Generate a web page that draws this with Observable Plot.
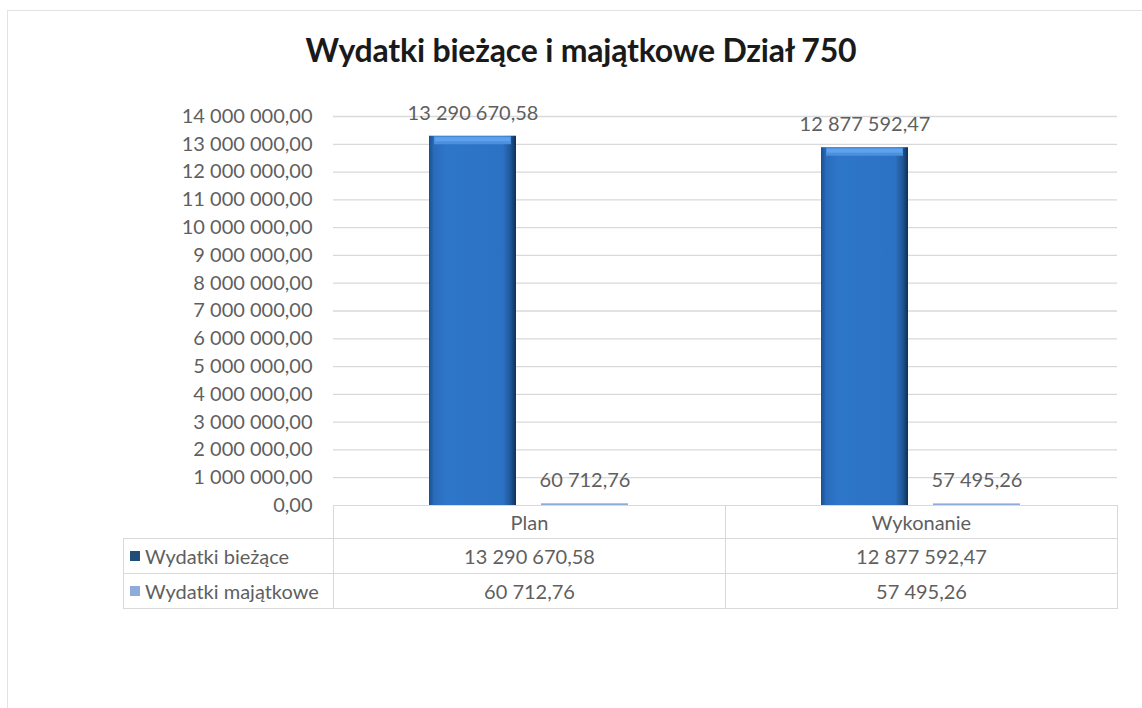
<!DOCTYPE html>
<html>
<head>
<meta charset="utf-8">
<script src="https://cdn.jsdelivr.net/npm/d3@7"></script>
<script src="https://cdn.jsdelivr.net/npm/@observablehq/plot@0.6"></script>
<style>
  html, body { margin: 0; padding: 0; background: #fff; }
  body { width: 1142px; height: 708px; position: relative; overflow: hidden; font-family: Lato, "Open Sans", sans-serif; }
  #frame { position: absolute; left: 7px; top: 10px; width: 1160px; height: 720px; border: 1px solid #e3e3e3; box-sizing: border-box; }
  #title { position: absolute; left: 0; width: 1162px; top: 30px; text-align: center; font-size: 32px; font-weight: bold; color: #1a1a1a; letter-spacing: -0.2px; }
  #chart { position: absolute; left: 0; top: 0; }
  .cell { position: absolute; box-sizing: border-box; color: #5f5f5f; font-size: 20px; display: flex; align-items: center; justify-content: center; border: 1px solid #d9d9d9; margin: 0; }
  .lab { justify-content: flex-start; padding-left: 6px; }
  .sw { display: inline-block; width: 10px; height: 10px; margin-right: 5px; }
</style>
</head>
<body>
<div id="frame"></div>
<div id="title">Wydatki bieżące i majątkowe Dział 750</div>
<div id="chart"></div>
<div id="table"></div>
<script>
const categories = ["Plan", "Wykonanie"];
const seriesNames = ["Wydatki bieżące", "Wydatki majątkowe"];
const biezace = [13290670.58, 12877592.47];
const majatkowe = [60712.76, 57495.26];
const yTicks = [0, 1e6, 2e6, 3e6, 4e6, 5e6, 6e6, 7e6, 8e6, 9e6, 10e6, 11e6, 12e6, 13e6, 14e6];
const swatchColors = ["#1f4e79", "#8faadc"];

const locale = d3.formatLocale({decimal: ",", thousands: " ", grouping: [3], currency: ["", " zł"]});
const fmt = locale.format(",.2f");

const data = [];
categories.forEach((c, i) => {
  data.push({cat: c, series: seriesNames[0], value: biezace[i]});
  data.push({cat: c, series: seriesNames[1], value: majatkowe[i]});
});

const chart = Plot.plot({
  width: 1142,
  height: 520,
  marginLeft: 333,
  marginRight: 25,
  marginTop: 116,
  marginBottom: 15,
  style: {fontFamily: "Lato, 'Open Sans', sans-serif", fontSize: "20px", color: "#5f5f5f", background: "transparent"},
  fx: {domain: categories, padding: 0, axis: null},
  x: {domain: seriesNames, paddingInner: 0.22, paddingOuter: 0.86, axis: null},
  y: {domain: [0, 14e6], label: null},
  marks: [
    Plot.ruleY(yTicks.filter(d => d > 0), {stroke: "#d9d9d9", strokeWidth: 1.3}),
    Plot.axisY({ticks: yTicks, tickFormat: fmt, tickSize: 0, tickPadding: 21, label: null, facetAnchor: "left", fill: "#5f5f5f", fontSize: "20px"}),
    Plot.barY(data, {fx: "cat", x: "series", y: "value",
      fill: d => d.series === seriesNames[0] ? "url(#gBlue)" : "#8faadc"}),
    Plot.tickY(data.filter(d => d.series === seriesNames[0]), {fx: "cat", x: "series", y: "value",
      stroke: "#4b90de", strokeWidth: 8, dy: 4, insetLeft: 5, insetRight: 5}),
    Plot.tickY(data.filter(d => d.series === seriesNames[0]), {fx: "cat", x: "series", y: "value",
      stroke: "#5ea2ec", strokeWidth: 4, dy: 3, insetLeft: 6, insetRight: 6}),
    Plot.text(data, {fx: "cat", x: "series", y: "value", text: d => fmt(d.value), dy: -23,
      fill: "#5f5f5f", fontSize: 20, lineAnchor: "middle"})
  ]
});

const defs = d3.select(chart).insert("defs", ":first-child");
const g1 = defs.append("linearGradient").attr("id", "gBlue").attr("x1", 0).attr("x2", 1).attr("y1", 0).attr("y2", 0);
[[0, "#1b4f8f"], [0.06, "#2a6cbd"], [0.2, "#2e76c9"], [0.85, "#2c72c4"], [0.94, "#1f5595"], [1, "#0f2f57"]]
  .forEach(([o, c]) => g1.append("stop").attr("offset", o).attr("stop-color", c));

document.getElementById("chart").appendChild(chart);

// data table below the plot, built from the same arrays
const table = document.getElementById("table");
const colX = [123, 333, 725, 1117];
const rowY = [505, 538, 573, 608];
function cell(x0, x1, y0, y1, html, cls) {
  const d = document.createElement("div");
  d.className = "cell " + (cls || "");
  d.style.left = x0 + "px"; d.style.top = y0 + "px";
  d.style.width = (x1 - x0 + 1) + "px"; d.style.height = (y1 - y0 + 1) + "px";
  d.innerHTML = html;
  table.appendChild(d);
}
categories.forEach((c, j) => cell(colX[j + 1], colX[j + 2], rowY[0], rowY[1], c));
const rows = [biezace, majatkowe];
rows.forEach((vals, i) => {
  cell(colX[0], colX[1], rowY[i + 1], rowY[i + 2],
    `<span class="sw" style="background:${swatchColors[i]}"></span>${seriesNames[i]}`, "lab");
  vals.forEach((v, j) => cell(colX[j + 1], colX[j + 2], rowY[i + 1], rowY[i + 2], fmt(v)));
});
</script>
</body>
</html>
